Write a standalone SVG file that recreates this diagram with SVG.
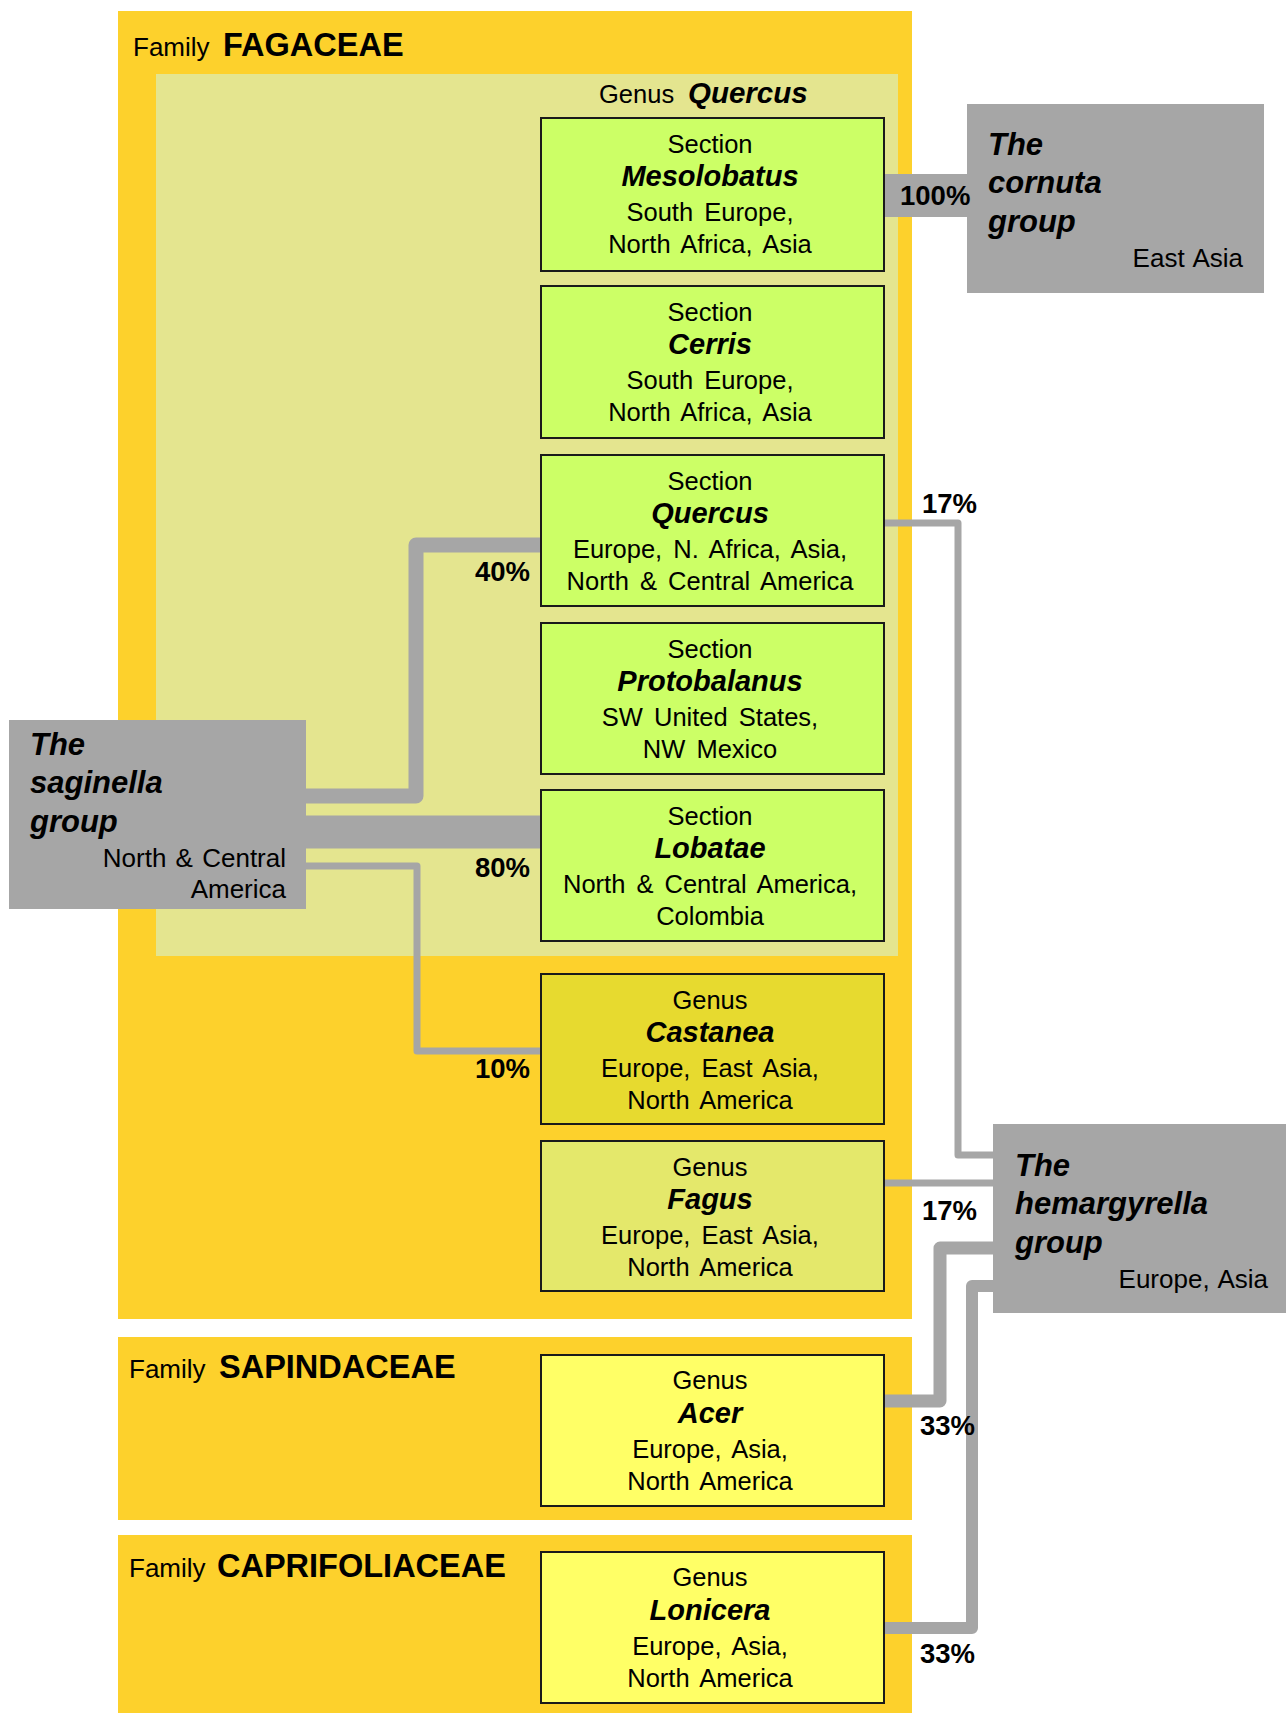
<svg xmlns="http://www.w3.org/2000/svg" width="1286" height="1713" viewBox="0 0 1286 1713">
<style>
text{font-family:"Liberation Sans",Arial,sans-serif;fill:#000}
.fam{font-size:26px}
.famb{font-size:32.5px;font-weight:bold}
.t{font-size:25.5px;text-anchor:middle;word-spacing:4px}
.n{font-size:29px;font-weight:bold;font-style:italic;text-anchor:middle}
.g{font-size:31px;font-weight:bold;font-style:italic}
.r{font-size:26px;text-anchor:end;word-spacing:2px}
.p{font-size:27.5px;font-weight:bold}
.family{fill:#FDD12C}
.box{stroke:#1a1a1a;stroke-width:2}
.sec{fill:#CCFF66}
.node{fill:#A6A6A6}
.c{fill:none;stroke:#A6A6A6;stroke-linejoin:round}
</style>
<rect width="1286" height="1713" fill="#fff"/>
<g id="family-fagaceae">
<rect class="family" x="118" y="11" width="794" height="1308"/>
<text x="133" y="56"><tspan class="fam">Family</tspan><tspan class="famb" x="223">FAGACEAE</tspan></text>
</g>
<g id="genus-quercus">
<rect x="156" y="74" width="742" height="882" fill="#E4E58F"/>
<text x="599" y="103"><tspan style="font-size:25.5px">Genus</tspan><tspan x="688" style="font-size:29.5px;font-weight:bold;font-style:italic">Quercus</tspan></text>
</g>
<g id="family-sapindaceae">
<rect class="family" x="118" y="1337" width="794" height="183"/>
<text x="129" y="1378"><tspan class="fam">Family</tspan><tspan class="famb" x="219">SAPINDACEAE</tspan></text>
</g>
<g id="family-caprifoliaceae">
<rect class="family" x="118" y="1535" width="794" height="178"/>
<text x="129" y="1577"><tspan class="fam">Family</tspan><tspan class="famb" x="217">CAPRIFOLIACEAE</tspan></text>
</g>
<g id="connectors">
<rect x="884" y="174" width="84" height="43" fill="#A6A6A6"/>
<path class="c" d="M306,796 H416 V545 H541" stroke-width="15"/>
<path class="c" d="M306,832 H541" stroke-width="33"/>
<path class="c" d="M306,866 H417 V1051 H541" stroke-width="7"/>
<path class="c" d="M884,523 H958 V1155 H993" stroke-width="7"/>
<path class="c" d="M884,1183 H993" stroke-width="7"/>
<path class="c" d="M884,1401 H940 V1248 H993" stroke-width="13"/>
<path class="c" d="M884,1628 H972 V1286 H993" stroke-width="12"/>
</g>
<g id="sec-mesolobatus">
<rect class="box sec" x="541" y="118" width="343" height="153"/>
<text class="t" x="710" y="153">Section</text>
<text class="n" x="710" y="186">Mesolobatus</text>
<text class="t" x="710" y="221">South Europe,</text>
<text class="t" x="710" y="253">North Africa, Asia</text>
</g>
<g id="sec-cerris">
<rect class="box sec" x="541" y="286" width="343" height="152"/>
<text class="t" x="710" y="321">Section</text>
<text class="n" x="710" y="354">Cerris</text>
<text class="t" x="710" y="389">South Europe,</text>
<text class="t" x="710" y="421">North Africa, Asia</text>
</g>
<g id="sec-quercus">
<rect class="box sec" x="541" y="455" width="343" height="151"/>
<text class="t" x="710" y="490">Section</text>
<text class="n" x="710" y="523">Quercus</text>
<text class="t" x="710" y="558">Europe, N. Africa, Asia,</text>
<text class="t" x="710" y="590">North &amp; Central America</text>
</g>
<g id="sec-protobalanus">
<rect class="box sec" x="541" y="623" width="343" height="151"/>
<text class="t" x="710" y="658">Section</text>
<text class="n" x="710" y="691">Protobalanus</text>
<text class="t" x="710" y="726">SW United States,</text>
<text class="t" x="710" y="758">NW Mexico</text>
</g>
<g id="sec-lobatae">
<rect class="box sec" x="541" y="790" width="343" height="151"/>
<text class="t" x="710" y="825">Section</text>
<text class="n" x="710" y="858">Lobatae</text>
<text class="t" x="710" y="893">North &amp; Central America,</text>
<text class="t" x="710" y="925">Colombia</text>
</g>
<g id="genus-castanea">
<rect class="box" fill="#E7DA2F" x="541" y="974" width="343" height="150"/>
<text class="t" x="710" y="1009">Genus</text>
<text class="n" x="710" y="1042">Castanea</text>
<text class="t" x="710" y="1077">Europe, East Asia,</text>
<text class="t" x="710" y="1109">North America</text>
</g>
<g id="genus-fagus">
<rect class="box" fill="#E4E86B" x="541" y="1141" width="343" height="150"/>
<text class="t" x="710" y="1176">Genus</text>
<text class="n" x="710" y="1209">Fagus</text>
<text class="t" x="710" y="1244">Europe, East Asia,</text>
<text class="t" x="710" y="1276">North America</text>
</g>
<g id="genus-acer">
<rect class="box" fill="#FFFF66" x="541" y="1355" width="343" height="151"/>
<text class="t" x="710" y="1389">Genus</text>
<text class="n" x="710" y="1423">Acer</text>
<text class="t" x="710" y="1458">Europe, Asia,</text>
<text class="t" x="710" y="1490">North America</text>
</g>
<g id="genus-lonicera">
<rect class="box" fill="#FFFF66" x="541" y="1552" width="343" height="151"/>
<text class="t" x="710" y="1586">Genus</text>
<text class="n" x="710" y="1620">Lonicera</text>
<text class="t" x="710" y="1655">Europe, Asia,</text>
<text class="t" x="710" y="1687">North America</text>
</g>
<g id="node-cornuta">
<rect class="node" x="967" y="104" width="297" height="189"/>
<text class="g" x="988" y="155">The</text>
<text class="g" x="988" y="193">cornuta</text>
<text class="g" x="988" y="232">group</text>
<text class="r" x="1243" y="267">East Asia</text>
</g>
<g id="node-saginella">
<rect class="node" x="9" y="720" width="297" height="189"/>
<text class="g" x="30" y="755">The</text>
<text class="g" x="30" y="793">saginella</text>
<text class="g" x="30" y="832">group</text>
<text class="r" x="286" y="867">North &amp; Central</text>
<text class="r" x="286" y="898">America</text>
</g>
<g id="node-hemargyrella">
<rect class="node" x="993" y="1124" width="293" height="189"/>
<text class="g" x="1015" y="1176">The</text>
<text class="g" x="1015" y="1214">hemargyrella</text>
<text class="g" x="1015" y="1253">group</text>
<text class="r" x="1268" y="1288">Europe, Asia</text>
</g>
<g id="labels">
<text class="p" x="900" y="205">100%</text>
<text class="p" x="530" y="581" text-anchor="end">40%</text>
<text class="p" x="530" y="877" text-anchor="end">80%</text>
<text class="p" x="530" y="1078" text-anchor="end">10%</text>
<text class="p" x="922" y="513">17%</text>
<text class="p" x="922" y="1220">17%</text>
<text class="p" x="920" y="1435">33%</text>
<text class="p" x="920" y="1663">33%</text>
</g>
</svg>
